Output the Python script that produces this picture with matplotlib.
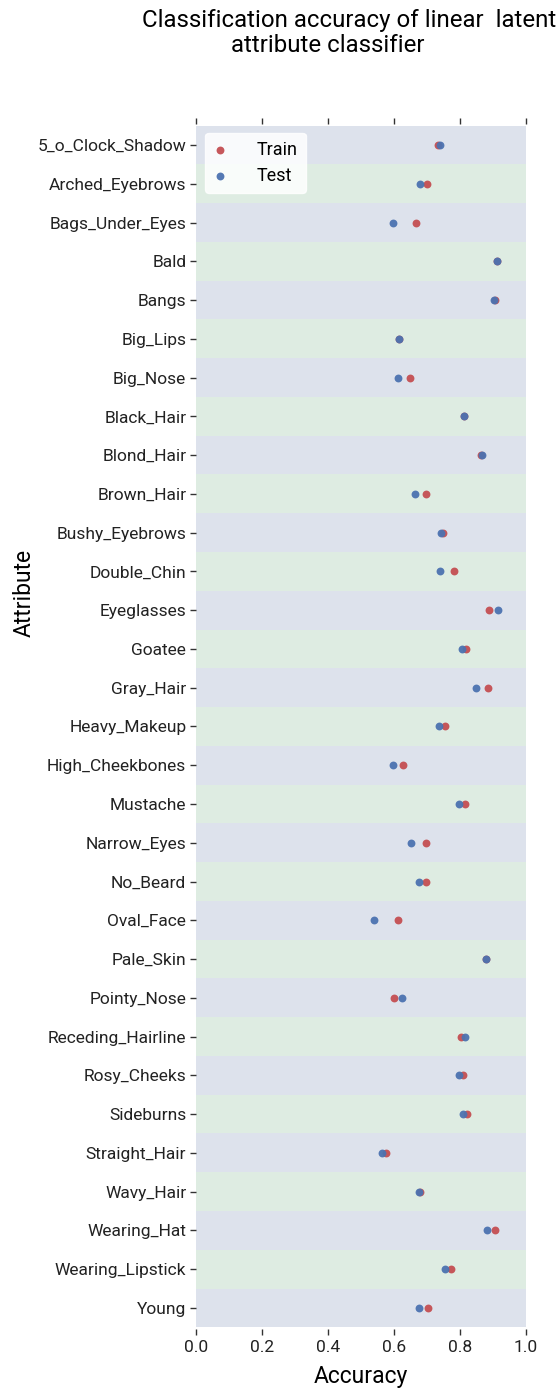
import matplotlib
matplotlib.use("Agg")
import matplotlib.pyplot as plt

attributes = ["5_o_Clock_Shadow", "Arched_Eyebrows", "Bags_Under_Eyes", "Bald", "Bangs",
              "Big_Lips", "Big_Nose", "Black_Hair", "Blond_Hair", "Brown_Hair",
              "Bushy_Eyebrows", "Double_Chin", "Eyeglasses", "Goatee", "Gray_Hair",
              "Heavy_Makeup", "High_Cheekbones", "Mustache", "Narrow_Eyes", "No_Beard",
              "Oval_Face", "Pale_Skin", "Pointy_Nose", "Receding_Hairline", "Rosy_Cheeks",
              "Sideburns", "Straight_Hair", "Wavy_Hair", "Wearing_Hat", "Wearing_Lipstick",
              "Young"]
train_acc = [0.734, 0.701, 0.666, 0.912, 0.906, 0.615, 0.649, 0.811, 0.865, 0.697,
             0.747, 0.783, 0.889, 0.817, 0.884, 0.756, 0.627, 0.814, 0.698, 0.696,
             0.613, 0.880, 0.601, 0.804, 0.808, 0.821, 0.577, 0.680, 0.907, 0.773,
             0.702]
test_acc = [0.739, 0.679, 0.597, 0.912, 0.902, 0.615, 0.611, 0.811, 0.867, 0.665,
            0.743, 0.740, 0.915, 0.807, 0.848, 0.735, 0.597, 0.796, 0.652, 0.677,
            0.538, 0.880, 0.624, 0.814, 0.796, 0.808, 0.564, 0.675, 0.881, 0.755,
            0.676]
x_ticks = [0.0, 0.2, 0.4, 0.6, 0.8, 1.0]

plt.rcParams['font.family'] = ['Roboto', 'DejaVu Sans']

W, H = 558, 1389
fig = plt.figure(figsize=(W / 100, H / 100), dpi=100)
ax_top, ax_bot = 123.6, 1329.3
ax = fig.add_axes([196 / W, (H - ax_bot) / H, 330 / W, (ax_bot - ax_top) / H])

band_colors = ["#dde2ec", "#deece2"]
n = len(attributes)
for i in range(n):
    ax.axhspan(i - 0.5, i + 0.5, color=band_colors[i % 2], lw=0, zorder=0)

ypos = list(range(n))
red = "#c44e52"
blue = "#4c72b0"
ax.scatter(train_acc, ypos, s=32, color=red, alpha=0.95, lw=0, zorder=3, label="Train")
ax.scatter(test_acc, ypos, s=32, color=blue, alpha=0.95, lw=0, zorder=4, label="Test")

margin = 0.052
ax.set_xlim(0, 1)
ax.set_ylim(n - 0.5 + margin, -0.5 - margin)
ax.set_yticks(ypos)
ax.set_yticklabels(attributes, fontsize=12.5, color="#222222")
ax.set_xticks(x_ticks)
ax.set_xticklabels([f"{t:.1f}" for t in x_ticks], fontsize=12.5, color="#222222")
for s in ax.spines.values():
    s.set_visible(False)
ax.tick_params(axis='x', top=True, bottom=True, labeltop=False, direction='out',
               length=4, width=1, color="#333333", pad=4)
ax.tick_params(axis='y', direction='out', length=4, width=1, color="#333333", pad=3)
ax.set_xlabel("Accuracy", fontsize=16.5, labelpad=7)
ax.set_ylabel("Attribute", fontsize=16.5)
ax.yaxis.set_label_coords(-0.485, (ax_bot - 593) / (ax_bot - ax_top))

leg = ax.legend(loc="upper left", fontsize=13, frameon=True, handlelength=0.8,
                handletextpad=1.6, borderpad=0.45, labelspacing=0.45,
                borderaxespad=0.5, fancybox=True, scatterpoints=1)
leg.get_frame().set_facecolor("white")
leg.get_frame().set_edgecolor("white")
leg.get_frame().set_alpha(0.85)

fig.text(349 / W, 1 - 20 / H, "Classification accuracy of linear  latent",
         ha="center", va="center", fontsize=17.3)
fig.text(328 / W, 1 - 45 / H, "attribute classifier",
         ha="center", va="center", fontsize=17.3)

fig.savefig("out.png", dpi=100, facecolor="white")
